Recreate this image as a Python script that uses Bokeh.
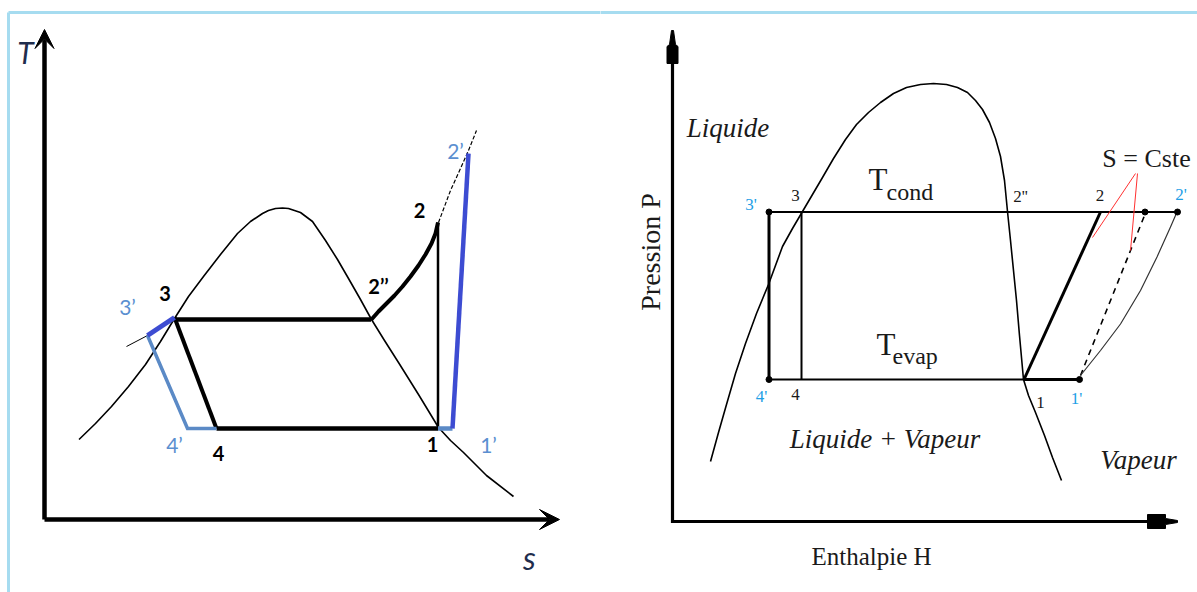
import numpy as np
from bokeh.plotting import figure
from bokeh.layouts import row
from bokeh.models import Arrow, VeeHead, Range1d
from bokeh.core.properties import value
from bokeh.embed import file_html
from bokeh.resources import INLINE

# ---------------------------------------------------------------- T-s diagram
# saturation dome (liquid branch -> critical point -> vapour branch)
ts_dome_s = [0.69, 1.02, 1.34, 1.68, 2.02, 2.32, 2.60, 2.88, 3.18, 3.52, 3.86, 4.12, 4.36,
             4.48, 4.62, 4.76, 4.88, 5.00, 5.12, 5.36, 5.62, 5.86, 6.08, 6.32, 6.54, 6.80,
             7.08, 7.48, 7.88, 8.12, 8.38, 8.84, 9.38]
ts_dome_T = [1.60, 1.92, 2.26, 2.66, 3.10, 3.56, 4.02, 4.46, 4.86, 5.30, 5.72, 5.96, 6.12,
             6.18, 6.22, 6.23, 6.22, 6.18, 6.14, 5.96, 5.58, 5.20, 4.82, 4.40, 4.00, 3.58,
             3.14, 2.50, 1.84, 1.58, 1.34, 0.88, 0.46]

ts_T_cond = 4.00
ts_T_evap = 1.82
ts_s3, ts_T3 = 2.60, 4.04
ts_s2pp = 6.53
ts_s2, ts_T2 = 7.87, 5.94
ts_s1 = 7.87
ts_s4 = 3.44
ts_s3p, ts_T3p = 2.06, 3.68
ts_s4p = 2.86
ts_s1p = 8.16
ts_s2p, ts_T2p = 8.48, 7.32
ts_liq_ext_s, ts_liq_ext_T = 1.64, 3.46

# desuperheating curve 2'' -> 2 and its isobar continuation
ts_desup_s = [6.53, 6.68, 6.84, 7.00, 7.16, 7.32, 7.48, 7.62, 7.74, 7.82, 7.87]
ts_desup_T = [3.99, 4.16, 4.32, 4.48, 4.66, 4.86, 5.08, 5.30, 5.52, 5.72, 5.94]
ts_isobar_s = [7.88, 8.12, 8.32, 8.48, 8.64]
ts_isobar_T = [5.94, 6.58, 7.02, 7.38, 7.78]

ts_labels_black = ["3", "2\u2019\u2019", "2", "1", "4"]
ts_labels_black_s = [2.41, 6.68, 7.50, 7.76, 3.48]
ts_labels_black_T = [4.52, 4.68, 6.18, 1.50, 1.32]
ts_labels_blue = ["3\u2019", "2\u2019", "1\u2019", "4\u2019"]
ts_labels_blue_s = [1.66, 8.22, 8.88, 2.60]
ts_labels_blue_T = [4.26, 7.38, 1.50, 1.50]

# ---------------------------------------------------------------- P-h diagram
ph_dome_h = [0.76, 0.92, 1.08, 1.26, 1.46, 1.68, 1.92, 2.20, 2.40, 2.60, 2.80, 3.00, 3.22,
             3.46, 3.68, 3.92, 4.16, 4.42, 4.68, 4.96, 5.22, 5.48, 5.70, 5.90, 6.06, 6.20,
             6.34, 6.46, 6.56, 6.64, 6.70, 6.76, 6.82, 6.88, 6.94, 7.02, 7.12, 7.26, 7.44,
             7.60, 7.78]
ph_dome_p = [1.20, 1.78, 2.34, 2.96, 3.56, 4.16, 4.74, 5.50, 5.86, 6.20, 6.54, 6.88, 7.26,
             7.64, 7.94, 8.18, 8.38, 8.56, 8.68, 8.74, 8.76, 8.74, 8.68, 8.58, 8.42, 8.24,
             7.98, 7.66, 7.30, 6.82, 6.20, 5.62, 5.02, 4.42, 3.72, 2.84, 2.52, 2.18, 1.72,
             1.28, 0.82]

ph_p_cond = 6.19
ph_p_evap = 2.84
ph_h3p, ph_h3, ph_h2pp, ph_h2, ph_h2s, ph_h2p = 1.93, 2.58, 6.72, 8.56, 9.45, 10.10
ph_h4p, ph_h4, ph_h1, ph_h1p = 1.93, 2.58, 7.03, 8.14

# compression from 1' : isentropic (dashed) and real
ph_isen_h = [8.16, 9.44]
ph_isen_p = [2.92, 6.12]
ph_real_h = [8.16, 8.56, 8.96, 9.36, 9.69, 9.96, 10.09]
ph_real_p = [2.92, 3.42, 3.95, 4.62, 5.29, 5.89, 6.19]

ph_pointer_h = [[9.26, 8.40], [9.30, 9.16]]
ph_pointer_p = [[6.96, 5.68], [6.96, 5.42]]

ph_labels_black = ["3", "2''", "2", "4", "1"]
ph_labels_black_h = [2.46, 6.96, 8.55, 2.46, 7.36]
ph_labels_black_p = [6.52, 6.50, 6.52, 2.54, 2.39]
ph_labels_cyan = ["3'", "2'", "4'", "1'"]
ph_labels_cyan_h = [1.57, 10.17, 1.78, 8.08]
ph_labels_cyan_p = [6.35, 6.55, 2.50, 2.46]

# ---------------------------------------------------------------- styling
PX = 50.0            # screen pixels per data unit, both panels
FRAME = "#a6dcf0"
BLUE = "#3d4cd2"
STEEL = "#5b8ac6"
CYAN = "#1ea0e6"
LBL_STEEL = "#5b8fd0"
INK = "#1a1a1a"


def base_figure(w, x0, y0):
    f = figure(width=w, height=592,
               x_range=Range1d(x0, x0 + w / PX), y_range=Range1d(y0, y0 + 592 / PX),
               x_axis_type=None, y_axis_type=None, output_backend="svg",
               toolbar_location=None, min_border=0)
    f.grid.visible = False
    f.outline_line_color = None
    f.background_fill_color = "white"
    f.border_fill_color = "white"
    return f


# ================================================================ left panel
p1 = base_figure(600, -0.88, -1.46)

# frame lines
p1.line([-0.72, 11.2], [10.14, 10.14], line_color=FRAME, line_width=3)
p1.line([-0.72, -0.72], [-1.6, 10.14], line_color=FRAME, line_width=3)

# axes with arrows
p1.add_layout(Arrow(end=VeeHead(size=19, fill_color="black", line_color="black"),
                    x_start=0, y_start=0, x_end=0, y_end=9.8,
                    line_width=4.5, line_color="black"))
p1.add_layout(Arrow(end=VeeHead(size=20, fill_color="black", line_color="black"),
                    x_start=0, y_start=0, x_end=10.3, y_end=0,
                    line_width=4.5, line_color="black"))
p1.text([-0.38], [9.36], text=["T"], text_font=value("Lato"), text_font_style="italic",
        text_font_size="30px", text_color="#1f2d4d", text_align="center",
        text_baseline="middle")
p1.text([9.70], [-0.76], text=["s"], text_font=value("Lato"), text_font_style="italic",
        text_font_size="32px", text_color="#1f2d4d", text_align="center",
        text_baseline="middle")

# dome
p1.line(ts_dome_s, ts_dome_T, line_color="black", line_width=1.6, line_join="round")
# saturated liquid extension below 3'
p1.line([ts_liq_ext_s, ts_s3p], [ts_liq_ext_T, ts_T3p], line_color="black", line_width=1)
# isobar continuation above 2
p1.line(ts_isobar_s, ts_isobar_T, line_color="black", line_width=1.2, line_dash="4 2")

# ideal cycle
p1.line([ts_s3, ts_s2pp], [ts_T_cond, ts_T_cond], line_color="black", line_width=4.5)
p1.line(ts_desup_s, ts_desup_T, line_color="black", line_width=4, line_join="round")
p1.line([ts_s2, ts_s1], [ts_T2, ts_T_evap], line_color="black", line_width=2.5)
p1.line([ts_s4, ts_s1], [ts_T_evap, ts_T_evap], line_color="black", line_width=4.5)
p1.line([ts_s3, ts_s4], [ts_T3, ts_T_evap], line_color="black", line_width=4)

# subcooling / superheating variant
p1.line([ts_s3p, ts_s4p, ts_s4], [ts_T3p, ts_T_evap, ts_T_evap], line_color=STEEL,
        line_width=3.5, line_join="miter")
p1.line([ts_s1, ts_s1p], [ts_T_evap, ts_T_evap], line_color=STEEL, line_width=4.5)
p1.line([ts_s3p, ts_s3], [ts_T3p, ts_T3], line_color=BLUE, line_width=5)
p1.line([ts_s1p, ts_s2p], [ts_T_evap, ts_T2p], line_color=BLUE, line_width=4.5)

p1.text(ts_labels_black_s, ts_labels_black_T, text=ts_labels_black,
        text_font=value("Lato"), text_font_style="bold", text_font_size="20px",
        text_color="black", text_align="center", text_baseline="middle")
p1.text(ts_labels_blue_s, ts_labels_blue_T, text=ts_labels_blue,
        text_font=value("Lato"), text_font_size="21px",
        text_color=LBL_STEEL, text_align="center", text_baseline="middle")

# ================================================================ right panel
p2 = base_figure(597, -1.44, -1.42)

p2.line([-1.5, 10.6], [10.18, 10.18], line_color=FRAME, line_width=3)

# axes
y_tip, x_tip = 9.82, 10.10
p2.line([0, 0, x_tip - 0.3], [y_tip - 0.3, 0, 0], line_color="black", line_width=3.2,
        line_join="miter")
yh = np.array([(-1, 0), (1, 0), (3, -14), (5.5, -16), (5.5, -33), (-5.5, -33),
               (-5.5, -16), (-3, -14)]) / PX
p2.patch(yh[:, 0], y_tip + yh[:, 1], fill_color="black", line_color="black")
xh = np.array([(0, 1), (-12, 3), (-12, 7), (-30, 7), (-30, -7), (-12, -7), (-12, -3),
               (0, -1)]) / PX
p2.patch(x_tip + xh[:, 0], xh[:, 1], fill_color="black", line_color="black")

SERIF = value("Liberation Serif")
p2.text([-0.45], [5.39], text=["Pression P"], angle=np.pi / 2, text_font=SERIF,
        text_font_size="28px", text_color=INK, text_align="center",
        text_baseline="middle")
p2.text([3.98], [-0.70], text=["Enthalpie H"], text_font=SERIF, text_font_size="25px",
        text_color=INK, text_align="center", text_baseline="middle")

# dome
p2.line(ph_dome_h, ph_dome_p, line_color="black", line_width=1.6, line_join="round")

# cycles
p2.line([ph_h3p, ph_h2p], [ph_p_cond, ph_p_cond], line_color="black", line_width=2)
p2.line([ph_h4p, ph_h1], [ph_p_evap, ph_p_evap], line_color="black", line_width=2.2)
p2.line([ph_h1, ph_h1p], [ph_p_evap, ph_p_evap], line_color="black", line_width=3)
p2.line([ph_h3p, ph_h4p], [ph_p_cond, ph_p_evap], line_color="black", line_width=3)
p2.line([ph_h3, ph_h4], [ph_p_cond, ph_p_evap], line_color="black", line_width=2)
p2.line([ph_h1, ph_h2], [ph_p_evap, ph_p_cond], line_color="black", line_width=3)
p2.line(ph_isen_h, ph_isen_p, line_color="black", line_width=1.6, line_dash="6 5")
p2.line(ph_real_h, ph_real_p, line_color="#333333", line_width=1.2, line_join="round")
p2.scatter([ph_h3p, ph_h4p, ph_h1p, ph_h2s, ph_h2p],
           [ph_p_cond, ph_p_evap, ph_p_evap, ph_p_cond, ph_p_cond],
           size=6, color="black")
p2.multi_line(ph_pointer_h, ph_pointer_p, line_color="#ff3030", line_width=1)

# text
p2.text([9.48], [7.26], text=["S = Cste"], text_font=SERIF, text_font_size="26px",
        text_color=INK, text_align="center", text_baseline="middle")
p2.text([1.11, 4.25, 9.32], [7.87, 1.66, 1.24],
        text=["Liquide", "Liquide + Vapeur", "Vapeur"], text_font=SERIF,
        text_font_style="italic", text_font_size="27px", text_color=INK,
        text_align="center", text_baseline="middle")
p2.text([4.11, 4.27], [6.84, 3.54], text=["T", "T"], text_font=SERIF,
        text_font_size="31px", text_color=INK, text_align="center",
        text_baseline="middle")
p2.text([4.28, 4.40], [6.60, 3.32], text=["cond", "evap"], text_font=SERIF,
        text_font_size="24px", text_color=INK, text_align="left",
        text_baseline="middle")
p2.text(ph_labels_black_h, ph_labels_black_p, text=ph_labels_black, text_font=SERIF,
        text_font_size="17px", text_color=INK, text_align="center",
        text_baseline="middle")
p2.text(ph_labels_cyan_h, ph_labels_cyan_p, text=ph_labels_cyan, text_font=SERIF,
        text_font_size="17px", text_color=CYAN, text_align="center",
        text_baseline="middle")

layout = row(p1, p2)
open("out.html", "w").write(file_html(layout, INLINE))
